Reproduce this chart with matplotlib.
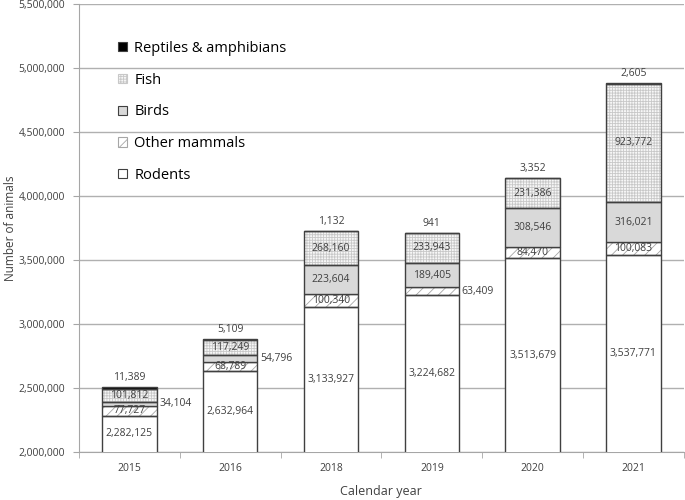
import numpy as np
import matplotlib
matplotlib.use("Agg")
import matplotlib.pyplot as plt
from matplotlib.patches import Patch
from matplotlib.ticker import FuncFormatter

plt.rcParams['font.family'] = ['Open Sans', 'DejaVu Sans']
plt.rcParams['hatch.linewidth'] = 0.6

years = ['2015', '2016', '2018', '2019', '2020', '2021']
rodents = [2282125, 2632964, 3133927, 3224682, 3513679, 3537771]
other_mammals = [77727, 68789, 100340, 63409, 84470, 100083]
birds = [34104, 54796, 223604, 189405, 308546, 316021]
fish = [101812, 117249, 268160, 233943, 231386, 923772]
reptiles = [11389, 5109, 1132, 941, 3352, 2605]

series = [
    ('Rodents', rodents, 'white', None, None),
    ('Other mammals', other_mammals, 'white', '///', '#a6a6a6'),
    ('Birds', birds, '#d9d9d9', None, None),
    ('Fish', fish, '#f7f7f7', '++++++', '#c8c8c8'),
    ('Reptiles & amphibians', reptiles, 'black', None, None),
]

# labels that sit beside the bar instead of inside: (series, year index)
side_labels = {('Birds', 0), ('Birds', 1), ('Other mammals', 3)}

txt = '#404040'
edge = '#404040'
ymin, ymax = 2000000, 5500000

fig = plt.figure(figsize=(6.85, 5.0), dpi=100)
ax = fig.add_axes([0.1153, 0.096, 0.883, 0.896])

x = np.arange(len(years))
w = 0.54
bottom = np.zeros(len(years))
handles = []
for name, vals, fc, hatch, hc in series:
    vals = np.array(vals, dtype=float)
    if hatch:
        ax.bar(x, vals, w, bottom=bottom, color=fc, hatch=hatch,
               edgecolor=hc, linewidth=0, zorder=2)
        ax.bar(x, vals, w, bottom=bottom, fill=False, edgecolor=edge,
               linewidth=1, zorder=3)
        handles.append(Patch(facecolor=fc, hatch=hatch, edgecolor=hc,
                             linewidth=0.8, label=name))
    else:
        ax.bar(x, vals, w, bottom=bottom, color=fc, edgecolor=edge,
               linewidth=1, zorder=3)
        handles.append(Patch(facecolor=fc, edgecolor=edge, linewidth=0.8,
                             label=name))
    for i, v in enumerate(vals):
        lab = f'{int(v):,}'
        top = bottom[i] + v
        mid = (max(bottom[i], ymin) + top) / 2
        if name == 'Reptiles & amphibians':
            ax.annotate(lab, (x[i], top), xytext=(0, 3),
                        textcoords='offset points', ha='center', va='bottom',
                        fontsize=7.5, color=txt, zorder=5)
        elif (name, i) in side_labels:
            ax.annotate(lab, (x[i] + w / 2, mid), xytext=(2, 0),
                        textcoords='offset points', ha='left', va='center',
                        fontsize=7.5, color=txt, zorder=5)
        else:
            ax.text(x[i], mid, lab, ha='center', va='center',
                    fontsize=7.5, color=txt, zorder=5)
    bottom += vals

ax.set_xlim(-0.5, len(years) - 0.5)
ax.set_ylim(ymin, ymax)
ax.set_yticks(np.arange(ymin, ymax + 1, 500000))
ax.yaxis.set_major_formatter(FuncFormatter(lambda v, p: f'{int(v):,}'))
ax.set_xticks(x)
ax.set_xticklabels(years)
ax.set_xticks(np.arange(-0.5, len(years)), minor=True)
ax.tick_params(axis='x', which='major', length=0, pad=8, labelsize=7.5,
               labelcolor=txt)
ax.tick_params(axis='x', which='minor', length=4, color='#a6a6a6')
ax.tick_params(axis='y', length=4, color='#a6a6a6', labelsize=7.5,
               labelcolor=txt, pad=6)

ax.grid(axis='y', color='#b0b0b0', linewidth=1, zorder=0)
ax.set_axisbelow(True)
for s in ['top', 'right']:
    ax.spines[s].set_visible(False)
for s in ['left', 'bottom']:
    ax.spines[s].set_color('#a6a6a6')

ax.set_ylabel('Number of animals', fontsize=8.5, color=txt, labelpad=1)
ax.set_xlabel('Calendar year', fontsize=9, color=txt, labelpad=8)

leg = ax.legend(handles=handles[::-1], loc='upper left',
                bbox_to_anchor=(0.043, 0.947), frameon=False, fontsize=10.5,
                handlelength=0.6, handleheight=0.6, handletextpad=0.5,
                labelspacing=1.15, labelcolor='black')

fig.savefig('out.png', dpi=100)
